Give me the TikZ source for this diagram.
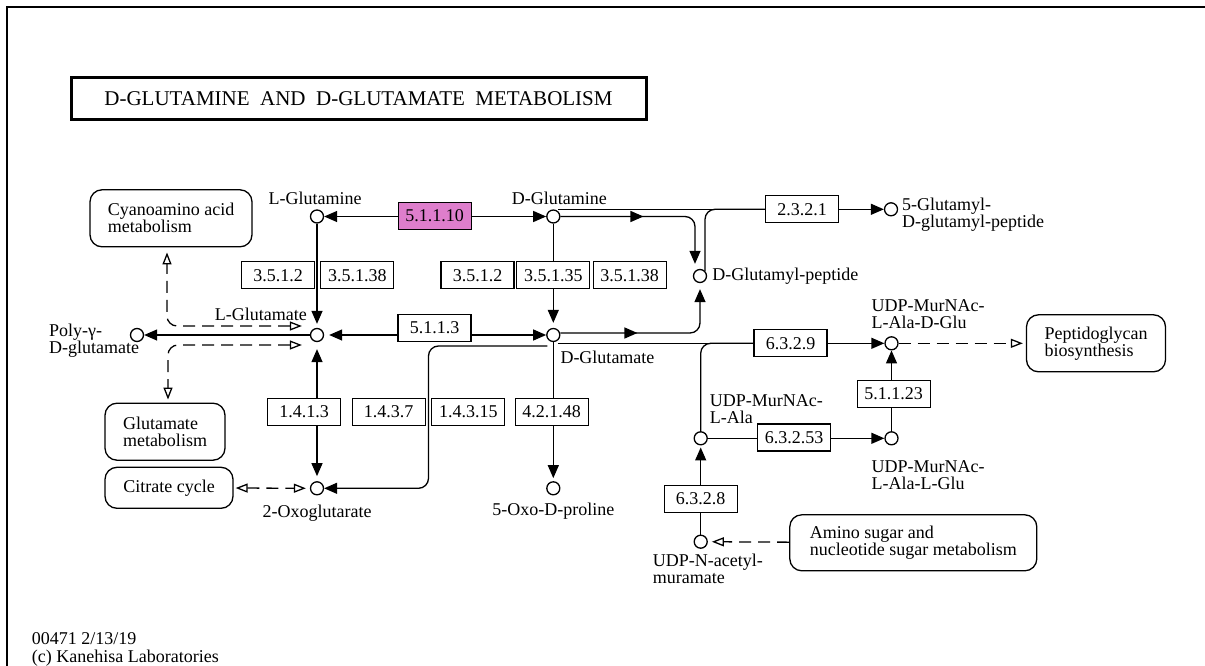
\documentclass[tikz,border=0pt]{standalone}
\usepackage{fontspec}
\setmainfont{Liberation Serif}
\usepackage{tikz}
\usetikzlibrary{arrows.meta, positioning, calc, backgrounds, decorations.markings}
\definecolor{kegg_pink}{RGB}{222, 126, 204}

\begin{document}
\begin{tikzpicture}[
        x=1pt, y=-1pt,
        font=\fontsize{18}{17}\selectfont,
        every node/.style={inner sep=0pt},
        cpd/.style={circle, draw, line width=1.3pt, fill=white, minimum size=13pt},
        enz/.style={rectangle, draw, line width=1.3pt, fill=white, minimum width=73pt, minimum height=27pt},
        pathmap/.style={rectangle, draw, line width=1.3pt, fill=white, rounded corners=12pt, align=left},
        lbl/.style={align=left},
        rxn/.style={line width=1.3pt, >={Triangle[length=13pt, width=11pt]}},
        maplink/.style={line width=1.3pt, dash pattern=on 12pt off 7pt, >={Triangle[open, length=12pt, width=9pt]}},
        midarrow/.style={postaction={decorate, decoration={markings,
            mark=at position #1 with {\arrow{Triangle[length=13pt, width=11pt]}}}}}
    ]
        % canvas in pixel units, y pointing down
        \useasboundingbox (0, 0) rectangle (1205, 666);
        \draw[line width=2pt] (7, 666) -- (7, 7) -- (1205, 7);

        % -------- Title --------
        \node[draw, line width=3pt, minimum width=575pt, minimum height=42pt,
              font=\fontsize{21}{21}\selectfont] (title) at (358.5, 99)
              {D-GLUTAMINE\ \ AND\ \ D-GLUTAMATE\ \ METABOLISM};

        % -------- Compounds --------
        \node[cpd] (lgln) at (317, 216.5) {};
        \node[cpd] (dgln) at (553.3, 216.5) {};
        \node[cpd] (lglu) at (317, 335) {};
        \node[cpd] (dglu) at (553.3, 335) {};
        \node[cpd] (poly) at (137, 335) {};
        \node[cpd] (dgp) at (700, 276) {};
        \node[cpd] (gdgp) at (891, 209.3) {};
        \node[cpd] (oxo) at (317, 488.3) {};
        \node[cpd] (oxopro) at (553.3, 488.3) {};
        \node[cpd] (udpala) at (700.7, 438.3) {};
        \node[cpd] (udpdglu) at (891.5, 343.3) {};
        \node[cpd] (udplglu) at (891.5, 438.3) {};
        \node[cpd] (udpnam) at (700.7, 541.7) {};

        % compound names
        \node[lbl, above=4pt of lgln, xshift=-2pt] {L-Glutamine};
        \node[lbl, above=4pt of dgln, xshift=6pt] {D-Glutamine};
        \node[lbl, anchor=south east] at ($(lglu)+(-10,-14)$) {L-Glutamate};
        \node[lbl, anchor=north west] at ($(dglu)+(7,16)$) {D-Glutamate};
        \node[lbl, right=5pt of dgp] {D-Glutamyl-peptide};
        \node[lbl, anchor=west] at ($(gdgp)+(11,5)$) {5-Glutamyl-\\D-glutamyl-peptide};
        \node[lbl, anchor=west] at ($(poly)+(-88,6)$) {Poly-γ-\\D-glutamate};
        \node[lbl, anchor=south west] at ($(udpdglu)+(-20,-14)$) {UDP-MurNAc-\\L-Ala-D-Glu};
        \node[lbl, anchor=south west] at ($(udpala)+(9,-14)$) {UDP-MurNAc-\\L-Ala};
        \node[lbl, anchor=north west] at ($(udplglu)+(-20,22)$) {UDP-MurNAc-\\L-Ala-L-Glu};
        \node[lbl, anchor=north west] at ($(udpnam)+(-48,12)$) {UDP-N-acetyl-\\muramate};
        \node[lbl, below=9pt of oxo] {2-Oxoglutarate};
        \node[lbl, below=7pt of oxopro] {5-Oxo-D-proline};

        % -------- Enzymes --------
        \node[enz, fill=kegg_pink] (e51110) at (434.7, 216) {5.1.1.10};
        \node[enz] (e3512a) at (278, 275.3) {3.5.1.2};
        \node[enz] (e35138a) at (357.3, 275.3) {3.5.1.38};
        \node[enz] (e3512b) at (477.5, 275.3) {3.5.1.2};
        \node[enz] (e35135) at (553.3, 275.3) {3.5.1.35};
        \node[enz] (e35138b) at (629.7, 275.3) {3.5.1.38};
        \node[enz] (e5113) at (434.5, 328) {5.1.1.3};
        \node[enz] (e1413) at (304, 411.7) {1.4.1.3};
        \node[enz] (e1437) at (388.7, 411.7) {1.4.3.7};
        \node[enz] (e14315) at (468.3, 411.7) {1.4.3.15};
        \node[enz] (e42148) at (551.7, 411.7) {4.2.1.48};
        \node[enz] (e2321) at (802, 209.3) {2.3.2.1};
        \node[enz] (e6329) at (790.5, 343.3) {6.3.2.9};
        \node[enz] (e51123) at (893.7, 393.7) {5.1.1.23};
        \node[enz] (e63253) at (794, 437.5) {6.3.2.53};
        \node[enz] (e6328) at (700.7, 498.7) {6.3.2.8};

        % -------- Maps --------
        \node[pathmap, minimum width=162pt, minimum height=57pt] (cyano) at (171, 218.3) {Cyanoamino acid\\metabolism};
        \node[pathmap, minimum width=120pt, minimum height=57pt] (glumet) at (165, 431.7) {Glutamate\\metabolism};
        \node[pathmap, minimum width=128pt, minimum height=41pt] (citrate) at (169, 487.8) {Citrate cycle};
        \node[pathmap, minimum width=139pt, minimum height=57pt] (peptido) at (1096, 343.3) {Peptidoglycan\\biosynthesis};
        \node[pathmap, minimum width=247pt, minimum height=56pt] (aminosugar) at (913.3, 542.8) {Amino sugar and\\nucleotide sugar metabolism};

        \coordinate (loop) at ($(e1437.east)!0.5!(e14315.west)$);

        % -------- Reactions --------
        \begin{scope}[on background layer]
            \draw[rxn, <->] (lgln) -- (dgln);
            \draw[rxn, ->, shorten >=4pt] (lgln) -- (lglu);
            \draw[rxn, ->, shorten >=5pt] (dgln) -- (dglu);
            \draw[rxn, <->, shorten <=5pt] (lglu) -- (dglu);
            \draw[rxn, ->] (lglu) -- (poly);
            \draw[rxn, <->, shorten <=7pt, shorten >=5pt] (lglu) -- (oxo);
            \draw[rxn, ->, rounded corners=10pt] ($(dglu)+(-6,11)$) -| (loop) |- (oxo);
            \draw[rxn, ->, shorten >=3pt] (dglu) -- (oxopro);

            \draw[rxn, ->, rounded corners=10pt, midarrow=83pt] (dgln.east) -| ($(dgp.north)+(-5,-5)$);
            \draw[rxn, ->, rounded corners=10pt, midarrow=77pt] ($(dglu.east)+(0,-2)$) -| ($(dgp.south)+(0,6)$);
            \draw[rxn] (dgln.north east |- e2321.west) -- (e2321.west);
            \draw[rxn, rounded corners=10pt] ($(dgp.north)+(5,2)$) |- (e2321.west);
            \draw[rxn, ->] (e2321) -- (gdgp);

            \draw[rxn, ->] (dglu.south east |- udpdglu) -- (udpdglu);
            \draw[rxn, rounded corners=10pt] (udpala) |- (e6329.west);
            \draw[rxn, ->] (udplglu) -- (udpdglu);
            \draw[rxn, ->] (udpala) -- (udplglu);
            \draw[rxn, ->, shorten >=2pt] (udpnam) -- (udpala);

            % links to other maps
            \draw[maplink, <->, rounded corners=10pt, shorten >=5pt] ($(lglu.west)+(-8,-9)$) -| ($(cyano.south)+(-4,0)$);
            \draw[maplink, <->, rounded corners=10pt, shorten >=3pt] ($(lglu.west)+(-8,10)$) -| ($(glumet.north)+(3,0)$);
            \draw[maplink, <->, shorten <=2pt, shorten >=4pt] (citrate) -- (oxo);
            \draw[maplink, ->, shorten >=3pt] (udpdglu) -- (peptido);
            \draw[maplink, ->, shorten >=4pt] (aminosugar) -- (udpnam);
        \end{scope}

        % -------- Stamp --------
        \node[lbl, anchor=north west, font=\fontsize{18}{18.4}\selectfont] (stamp) at (31.7, 632)
              {00471 2/13/19\\(c) Kanehisa Laboratories};
    \end{tikzpicture}
\end{document}
